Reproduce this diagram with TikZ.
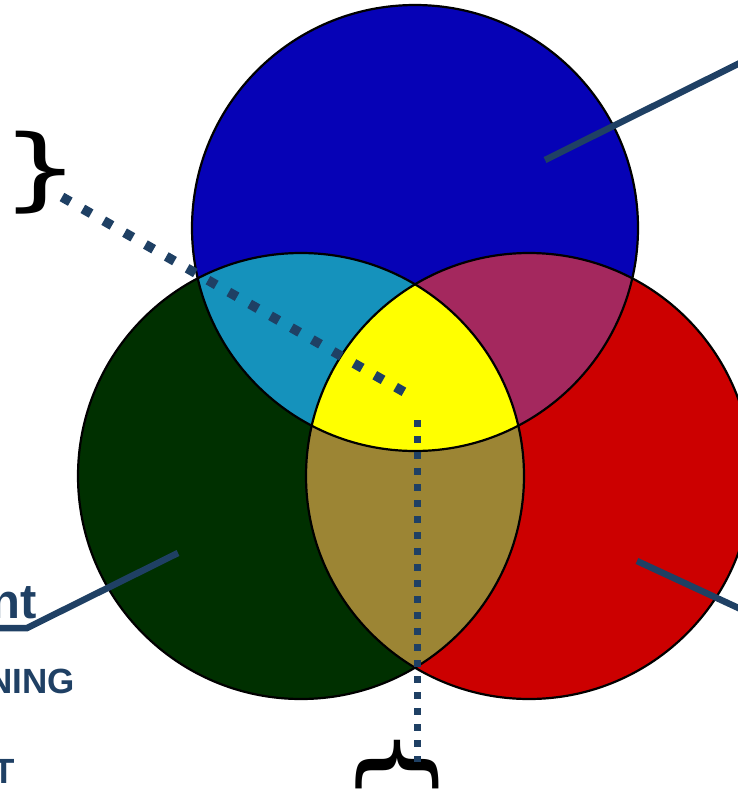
\documentclass[tikz,border=0pt]{standalone}
\usepackage{fontspec}
\setmainfont{Liberation Sans}
\newfontfamily\bracefont{DejaVu Sans}
\usepackage{xcolor}
\usetikzlibrary{positioning}

\definecolor{navyline}{RGB}{31,64,100}
\definecolor{setblue}{RGB}{6,2,182}
\definecolor{setgreen}{RGB}{0,48,0}
\definecolor{setred}{RGB}{204,0,0}
\definecolor{bluegreen}{RGB}{21,146,188}
\definecolor{bluered}{RGB}{164,40,94}
\definecolor{greenred}{RGB}{156,133,52}
\definecolor{allthree}{RGB}{255,255,0}

\begin{document}
\begin{tikzpicture}[
    x=1pt, y=-1pt,
    ring/.style={draw=black, line width=2.2pt},
    lead/.style={draw=navyline, line width=6.5pt},
    dotlead/.style={draw=navyline, line width=9.5pt, dash pattern=on 9.5pt off 14.5pt},
    dotdown/.style={draw=navyline, line width=7pt, dash pattern=on 7pt off 9pt},
    caption/.style={text=navyline, inner sep=0pt, font=\bfseries\fontsize{35}{35}\selectfont},
    brace/.style={inner sep=0pt, font=\bracefont\fontsize{90}{90}\selectfont}
]
\useasboundingbox (0,0) rectangle (738,790);
\clip (0,0) rectangle (738,790);

\coordinate (cblue) at (415,228);
\coordinate (cgreen) at (301,476);
\coordinate (cred) at (529,476);
\def\rad{223pt}

\fill[setblue] (cblue) circle[radius=\rad];
\fill[setgreen] (cgreen) circle[radius=\rad];
\fill[setred] (cred) circle[radius=\rad];
\begin{scope}
    \clip (cblue) circle[radius=\rad];
    \fill[bluegreen] (cgreen) circle[radius=\rad];
    \fill[bluered] (cred) circle[radius=\rad];
\end{scope}
\begin{scope}
    \clip (cgreen) circle[radius=\rad];
    \fill[greenred] (cred) circle[radius=\rad];
    \clip (cred) circle[radius=\rad];
    \fill[allthree] (cblue) circle[radius=\rad];
\end{scope}
\foreach \c in {cblue,cgreen,cred}
    \draw[ring] (\c) circle[radius=\rad];

\node[brace] (leftbrace) at (41,173) {\scalebox{1.4}[1]{\}}};
\node[brace, rotate=-90] (bottombrace) at (397,765) {\scalebox{1.4}[1]{\{}};

\node[caption, anchor=base east, font=\bfseries\fontsize{49}{49}\selectfont] (ntlabel) at (37,618) {nt};
\node[caption, anchor=base east] (ninglabel) at (75,693) {NING};
\node[caption, anchor=base east] (tlabel) at (15,783) {T};

\coordinate (bluetip) at (545,160);
\coordinate (blueend) at (760,53);
\coordinate (greentip) at (178,553);
\coordinate (greenknee) at (27,628);
\coordinate (redtip) at (637,561);
\coordinate (redend) at (760,618);
\coordinate (diagstart) at (62,197);
\coordinate (diagend) at (406,393);
\coordinate (downstart) at (417,420);
\coordinate (downend) at (417,762);

\draw[lead] (bluetip) -- (blueend);
\draw[lead] (greentip) -- (greenknee) -- (greenknee -| ntlabel.west);
\draw[lead] (redtip) -- (redend);
\draw[dotlead] (diagstart) -- (diagend);
\draw[dotdown] (downstart) -- (downend);
\end{tikzpicture}
\end{document}
